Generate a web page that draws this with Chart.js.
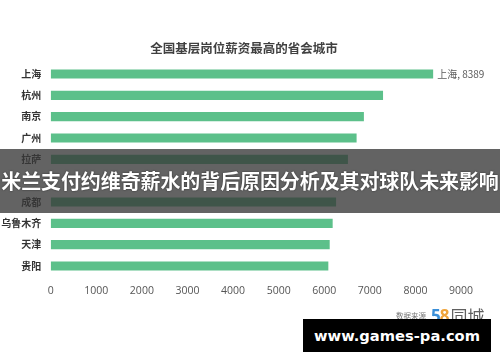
<!DOCTYPE html>
<html>
<head>
<meta charset="utf-8">
<script src="https://cdn.jsdelivr.net/npm/chart.js@4/dist/chart.umd.min.js"></script>
<style>
  html, body { margin: 0; padding: 0; background: #fff; }
  #wrap { position: relative; width: 500px; height: 362px; overflow: hidden; }
  #c { position: absolute; left: 0; top: 0; }
  .title {
    position: absolute; left: 0; width: 488px; top: 39px; text-align: center;
    font: bold 12.5px "Noto Sans CJK SC", sans-serif; color: #404040; line-height: 18px;
  }
  .banner {
    position: absolute; left: 0; top: 149px; width: 500px; height: 64px;
    background: rgba(55, 55, 55, 0.78);
  }
  .banner span {
    position: absolute; left: 0; width: 500px; top: 19px; text-align: center;
    font: bold 20px "Noto Sans CJK SC", sans-serif; color: #fff; line-height: 26px;
    letter-spacing: -0.1px; white-space: nowrap;
    text-shadow: 0 0 2px rgba(0,0,0,0.6);
  }
  .source {
    position: absolute; left: 396px; top: 303px; height: 20px; white-space: nowrap;
  }
  .source .lbl { font: 7.5px "Noto Sans CJK SC", sans-serif; color: #777; vertical-align: middle; }
  .source .n5 { font: bold 17px "Open Sans", sans-serif; color: #3a8fd8; vertical-align: middle; margin-left: 5px; letter-spacing: -1px; }
  .source .n8 { font: bold 17px "Open Sans", sans-serif; color: #f0a43a; vertical-align: middle; }
  .source .tc { font: 17px "Noto Sans CJK SC", sans-serif; color: #606060; vertical-align: middle; margin-left: 1px; }
  .mark {
    position: absolute; left: 303px; top: 319px; width: 188px; height: 33px; background: #000;
  }
  .mark span {
    position: absolute; left: 0; width: 188px; top: 6px; text-align: center;
    font: bold 14.7px "DejaVu Sans", sans-serif; color: #fff; line-height: 21px; white-space: nowrap;
  }
</style>
</head>
<body>
<div id="wrap">
  <canvas id="c" width="500" height="362"></canvas>
  <div class="title">全国基层岗位薪资最高的省会城市</div>
  <div class="banner"><span>米兰支付约维奇薪水的背后原因分析及其对球队未来影响</span></div>
  <div class="source"><span class="lbl">数据来源</span><span class="n5">5</span><span class="n8">8</span><span class="tc">同城</span></div>
  <div class="mark"><span>www.games-pa.com</span></div>
</div>
<script>
// Cities, top to bottom; the sixth row sits under the caption strip and its name is not legible.
const cities = ['上海', '杭州', '南京', '广州', '拉萨', '', '成都', '乌鲁木齐', '天津', '贵阳'];
// Average base-level monthly pay (yuan)
const salaries = [8389, 7290, 6870, 6710, 6520, null, 6260, 6185, 6120, 6090];
// Value axis ticks
const xTicks = [0, 1000, 2000, 3000, 4000, 5000, 6000, 7000, 8000, 9000];
// Only the top bar carries a value label
const labelledIndex = 0;

const valueLabel = {
  id: 'valueLabel',
  afterDatasetsDraw(chart) {
    const { ctx } = chart;
    const bar = chart.getDatasetMeta(0).data[labelledIndex];
    ctx.save();
    ctx.font = '10px "Noto Sans CJK SC", sans-serif';
    ctx.fillStyle = '#5a5a5a';
    ctx.textAlign = 'left';
    ctx.textBaseline = 'middle';
    ctx.fillText(cities[labelledIndex] + ', ' + salaries[labelledIndex], bar.x + 4, bar.y + 0.5);
    ctx.restore();
  }
};

new Chart(document.getElementById('c'), {
  type: 'bar',
  data: {
    labels: cities,
    datasets: [{
      data: salaries,
      backgroundColor: '#5cc08a',
      borderWidth: 0,
      categoryPercentage: 1,
      barPercentage: 0.43
    }]
  },
  options: {
    indexAxis: 'y',
    responsive: false,
    animation: false,
    devicePixelRatio: 1,
    layout: { padding: { left: 0, right: 39, top: 63.3, bottom: 63.3 } },
    plugins: { legend: { display: false }, tooltip: { enabled: false }, title: { display: false } },
    scales: {
      x: {
        min: 0, max: 9000,
        afterBuildTicks(s) { s.ticks = xTicks.map(v => ({ value: v })); },
        afterFit(s) { s.height = 22; },
        grid: { display: false, drawTicks: false },
        border: { display: false },
        ticks: {
          padding: 8,
          color: '#555',
          font: { family: '"Open Sans", sans-serif', size: 10.5 },
          callback: v => String(v)
        }
      },
      y: {
        afterFit(s) { s.width = 50.7; },
        grid: { display: false, drawTicks: false },
        border: { display: false },
        ticks: {
          padding: 9.5,
          color: '#333',
          font: { family: '"Noto Sans CJK SC", sans-serif', size: 10, weight: 'bold' }
        }
      }
    }
  },
  plugins: [valueLabel]
});
</script>
</body>
</html>
